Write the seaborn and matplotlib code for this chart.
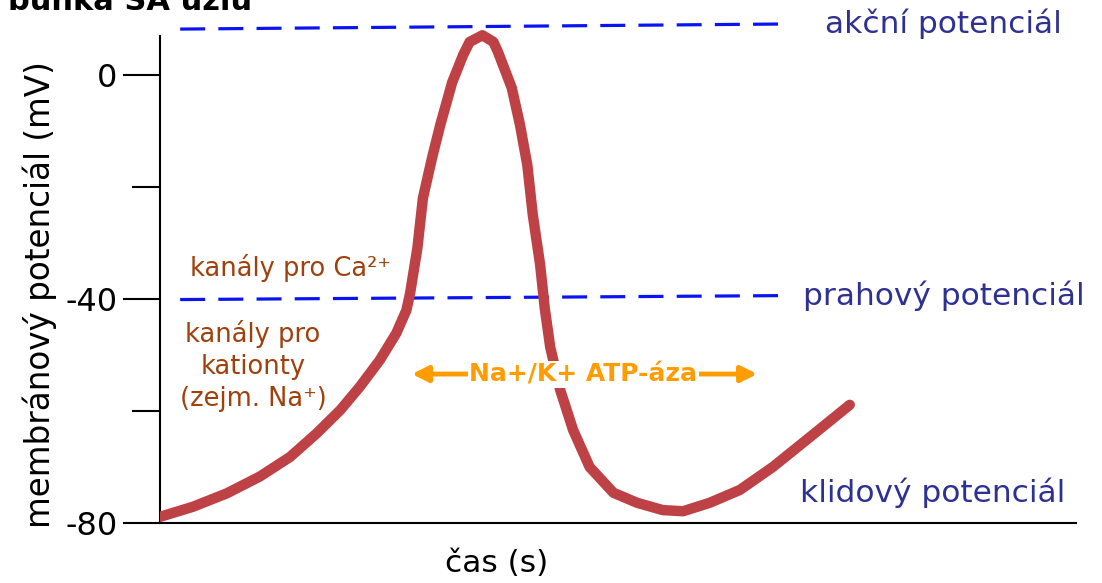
import numpy as np
import pandas as pd
import matplotlib
matplotlib.use("Agg")
import matplotlib.pyplot as plt
import seaborn as sns

# ---- data ----
time_s = [0.000, 0.036, 0.073, 0.109, 0.142, 0.171, 0.197, 0.218, 0.240, 0.258,
          0.269, 0.273, 0.281, 0.287, 0.297, 0.306, 0.319, 0.331, 0.338, 0.352,
          0.364, 0.369, 0.384, 0.393, 0.401, 0.407, 0.415, 0.420, 0.426, 0.437,
          0.451, 0.469, 0.495, 0.521, 0.549, 0.571, 0.600, 0.633, 0.669, 0.710,
          0.753]
membrane_mv = [-78.9, -77.1, -74.7, -71.7, -68.2, -64.0, -59.8, -55.7, -50.9, -46.1,
               -42.0, -39.0, -30.9, -22.0, -14.8, -8.9, -1.3, 3.6, 5.9, 7.1,
               5.9, 4.1, -2.3, -8.9, -16.1, -25.0, -33.9, -41.6, -48.6, -56.3,
               -63.4, -70.0, -74.6, -76.4, -77.7, -77.9, -76.4, -74.1, -70.0, -64.6,
               -58.9]

action_line_x = [0.022, 0.675]
action_line_y = [8.2, 9.1]
threshold_line_x = [0.022, 0.675]
threshold_line_y = [-40.1, -39.4]

y_major_ticks = [0, -40, -80]
y_major_labels = ["0", "-40", "-80"]
y_minor_ticks = [-20, -60]

level_labels = ["akční potenciál", "prahový potenciál", "klidový potenciál"]
level_label_x = [0.726, 0.702, 0.699]
level_label_y = [9.1, -39.5, -74.6]

pump_label = "Na+/K+ ATP-áza"
pump_x = [0.275, 0.652]
pump_y = -53.4

title_text = "buňka SA uzlu"
xlabel_text = "čas (s)"
ylabel_text = "membránový potenciál (mV)"

# ---- styling ----
sns.set_theme(style="white")
plt.rcParams["font.family"] = ["DejaVu Sans"]
plt.rcParams["lines.scale_dashes"] = False

RED = "#BE4146"
NAVY = "#2E3192"
BROWN = "#A0410D"
ORANGE = "#FF9C00"
BLUE = "#0A14F0"

fig = plt.figure(figsize=(11.02, 5.83), dpi=100)
ax = fig.add_axes([160 / 1102, 1 - 523 / 583, (1076 - 160) / 1102, (523 - 19) / 583])

df = pd.DataFrame({"t": time_s, "v": membrane_mv})
sns.lineplot(data=df, x="t", y="v", ax=ax, color=RED, linewidth=7.5,
             estimator=None, sort=False, solid_capstyle="round",
             solid_joinstyle="round", zorder=3)

# dashed reference lines (dash lengths in points)
for xs, ys in [(action_line_x, action_line_y), (threshold_line_x, threshold_line_y)]:
    ax.plot(xs, ys, color=BLUE, linewidth=2.3, linestyle=(0, (18, 9.5)),
            zorder=2, clip_on=False)

ax.set_xlim(0, 1.0)
ax.set_ylim(-80, 10)

# spines
for s in ["top", "right"]:
    ax.spines[s].set_visible(False)
for s in ["left", "bottom"]:
    ax.spines[s].set_color("black")
    ax.spines[s].set_linewidth(1.5)
ax.spines["left"].set_bounds(-80, 7.0)

ax.set_xticks([])
ax.set_yticks(y_major_ticks)
ax.set_yticklabels(y_major_labels)
ax.set_yticks(y_minor_ticks, minor=True)
ax.tick_params(axis="y", which="major", direction="out", length=27, width=1.5,
               color="black", labelcolor="black", labelsize=23, pad=3.5, left=True)
ax.tick_params(axis="y", which="minor", direction="out", length=20, width=1.5,
               color="black", left=True)
ax.set_xlabel("")
ax.set_ylabel("")
ax.grid(False)

# level labels
for txt, lx, ly in zip(level_labels, level_label_x, level_label_y):
    ax.text(lx, ly, txt, color=NAVY, fontsize=22.5, ha="left", va="center",
            clip_on=False)

# channel labels
ax.text(0.0328, -34.5, "kanály pro Ca²⁺", color=BROWN, fontsize=18.5,
        ha="left", va="center")
ax.text(0.1015, -52.0, "kanály pro\nkationty\n(zejm. Na⁺)", color=BROWN,
        fontsize=18.5, ha="center", va="center", linespacing=1.3)

# pump arrow
ax.annotate("", xy=(pump_x[0], pump_y), xytext=(pump_x[1], pump_y),
            arrowprops=dict(arrowstyle="<|-|>", color=ORANGE, lw=3.5,
                            mutation_scale=24, shrinkA=0, shrinkB=0),
            zorder=4)
ax.text((pump_x[0] + pump_x[1]) / 2 - 0.0015, pump_y, pump_label, color=ORANGE,
        fontsize=18, fontweight="bold", ha="center", va="center", zorder=5,
        bbox=dict(facecolor="white", edgecolor="none", pad=1.0))

# axis labels & title (cut off at the top edge, as in the reference)
fig.text(497 / 1102, 1 - 563 / 583, xlabel_text, fontsize=22.5, ha="center",
         va="center", color="black")
fig.text(40 / 1102, 1 - 295 / 583, ylabel_text, fontsize=23.5, ha="center",
         va="center", rotation=90, color="black")
fig.text(8 / 1102, 1 - 10 / 583, title_text, fontsize=22, fontweight="bold",
         ha="left", va="baseline", color="black")

fig.savefig("out.png", dpi=100, facecolor="white")
